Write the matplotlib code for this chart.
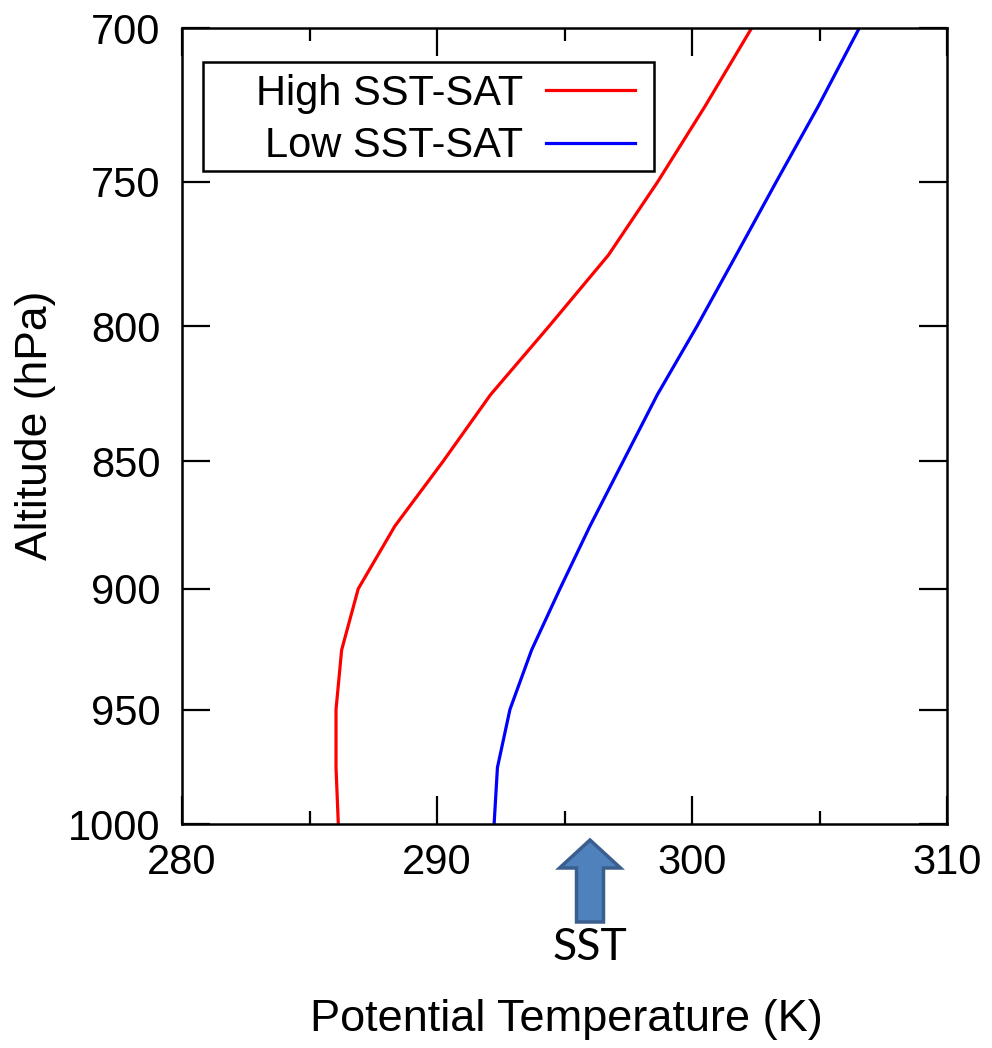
import matplotlib
matplotlib.use("Agg")
import matplotlib.pyplot as plt
import matplotlib.ticker as mticker
from matplotlib.patches import Rectangle, FancyArrow
from matplotlib.transforms import IdentityTransform

plt.rcParams['font.family'] = ['Liberation Sans', 'DejaVu Sans']

# pressure levels (hPa) and potential temperature profiles (K)
levels = [1000, 975, 950, 925, 900, 875, 850, 825, 800, 775, 750, 725, 700]
theta_high = [286.13, 286.04, 286.04, 286.26, 286.91, 288.35, 290.24,
              292.1, 294.4, 296.72, 298.65, 300.51, 302.34]
theta_low = [292.24, 292.37, 292.86, 293.71, 294.82, 296.0, 297.3,
             298.64, 300.2, 301.73, 303.3, 304.95, 306.56]
series_names = ["High SST-SAT", "Low SST-SAT"]
series_colors = ["#ff0000", "#0000ff"]
sst = 296.0

W, H = 992, 1048
fig = plt.figure(figsize=(W / 100, H / 100), dpi=100)
ax = fig.add_axes([182 / W, 1 - 824 / H, 765 / W, 796 / H])

for theta, name, col in zip([theta_high, theta_low], series_names, series_colors):
    ax.plot(theta, levels, color=col, lw=2.3, label=name)

ax.set_yscale('log')
ax.set_ylim(1000, 700)
ax.set_xlim(280, 310)
ax.yaxis.set_major_locator(mticker.FixedLocator(range(700, 1001, 50)))
ax.yaxis.set_major_formatter(mticker.FormatStrFormatter('%d'))
ax.yaxis.set_minor_locator(mticker.NullLocator())
ax.xaxis.set_major_locator(mticker.MultipleLocator(10))
ax.xaxis.set_minor_locator(mticker.MultipleLocator(5))

ax.tick_params(which='both', direction='in', top=True, right=True, width=1.6)
ax.tick_params(which='major', length=20)
ax.tick_params(which='minor', length=9.5)
ax.tick_params(axis='x', labelsize=30, pad=13.5)
ax.tick_params(axis='y', labelsize=30, pad=15.5)
for sp in ax.spines.values():
    sp.set_linewidth(1.8)

# legend box with right-aligned labels
ax.add_patch(Rectangle((0.0275, 0.8204), 0.5895, 0.1369, transform=ax.transAxes,
                       fill=False, lw=1.8, ec='black', zorder=5))
for name, col, ty, ly in zip(series_names, series_colors, [0.9033, 0.838], [0.922, 0.855]):
    ax.text(0.4458, ty, name, transform=ax.transAxes, ha='right', va='baseline',
            fontsize=30, zorder=6)
    ax.plot([0.4758, 0.592], [ly, ly], transform=ax.transAxes, color=col, lw=2.3,
            zorder=6)

fig.text(566 / W, 1 - 1020 / H, "Potential Temperature (K)", ha='center', va='center',
         fontsize=32.5)
fig.text(36 / W, 1 - 425 / H, "Altitude (hPa)", ha='center', va='center',
         rotation=90, fontsize=32)

# SST marker arrow below the x axis
fig.canvas.draw()
xs = ax.transData.transform((sst, 1000))[0]
arrow = FancyArrow(xs, H - 922, 0, 82, width=27, head_width=61, head_length=28,
                   length_includes_head=True, transform=IdentityTransform(),
                   fc='#4f81bd', ec='#3a5f8f', lw=2.5)
fig.add_artist(arrow)
fig.text(xs / W, 1 - 947 / H, "SST", ha='center', va='center', fontsize=32,
         family=['Lato', 'DejaVu Sans'])

fig.savefig("out.png", dpi=100)
